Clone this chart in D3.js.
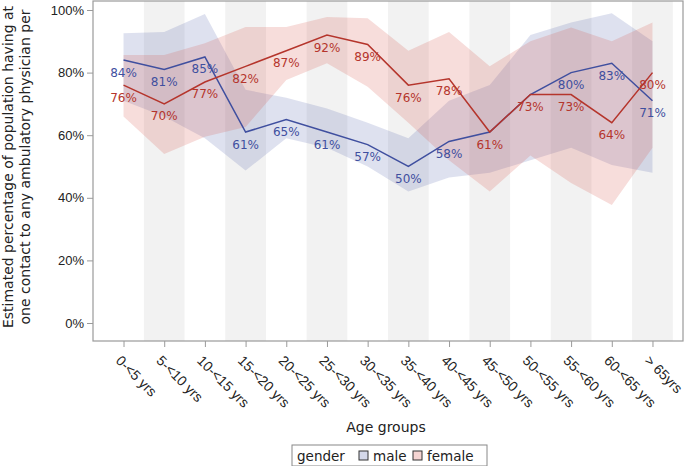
<html>
  <head>
    <script src="https://cdnjs.cloudflare.com/ajax/libs/d3/7.8.5/d3.min.js"></script>
    <style>
      body { margin: 0; background: #fff; }
      svg { display: block; font-family: "DejaVu Sans", Verdana, sans-serif; }
    </style>
  </head>
  <body>
    <svg width="685" height="466"></svg>
    <script>
      const ageGroups = ["0-<5 yrs", "5-<10 yrs", "10-<15 yrs", "15-<20 yrs", "20-<25 yrs", "25-<30 yrs",
        "30-<35 yrs", "35-<40 yrs", "40-<45 yrs", "45-<50 yrs", "50-<55 yrs", "55-<60 yrs", "60-<65 yrs", "> 65yrs"];
      const male = [84, 81, 85, 61, 65, 61, 57, 50, 58, 61, 73, 80, 83, 71];
      const maleHi = [92.6, 93, 98.7, 74.5, 72, 68.5, 64, 59, 71, 76, 92, 96, 99, 90];
      const maleLo = [71, 66, 59, 48.7, 59, 56, 50, 42, 46.5, 48, 52, 56, 50.5, 48];
      const female = [76, 70, 77, 82, 87, 92, 89, 76, 78, 61, 73, 73, 64, 80];
      const femaleHi = [85.6, 85.6, 89.4, 94.6, 94.6, 97.8, 97.4, 87, 93, 82, 90, 94.4, 90, 96];
      const femaleLo = [66, 54, 59.5, 62.6, 77.6, 83, 75.5, 64, 52, 42, 53.5, 44.7, 37.7, 56];
      const yTicks = [0, 20, 40, 60, 80, 100];

      const svg = d3.select("svg");
      const pLeft = 93, pRight = 683, pTop = 1, pBottom = 341;

      const x = d3.scalePoint().domain(ageGroups).range([pLeft, pRight]).padding(0.75);
      const y = d3.scaleLinear().domain([0, 100]).range([323, 10]);
      const step = x.step();

      // alternating stripes
      svg.append("g").selectAll("rect")
        .data(ageGroups.filter((d, i) => i % 2 === 1))
        .join("rect")
        .attr("x", d => x(d) - step / 2)
        .attr("y", pTop)
        .attr("width", step)
        .attr("height", pBottom - pTop)
        .attr("fill", "#f2f2f2");

      const series = [
        { key: "male", vals: male, lo: maleLo, hi: maleHi, line: "#3f4f9f", fill: "#3c4fa0", op: 0.17 },
        { key: "female", vals: female, lo: femaleLo, hi: femaleHi, line: "#b5352c", fill: "#d9544c", op: 0.2 }
      ];

      const area = d3.area()
        .x((d, i) => x(ageGroups[i]))
        .y0(d => y(d[0]))
        .y1(d => y(d[1]));
      const line = d3.line()
        .x((d, i) => x(ageGroups[i]))
        .y(d => y(d));

      series.forEach(s => {
        svg.append("path")
          .datum(s.lo.map((v, i) => [v, s.hi[i]]))
          .attr("d", area)
          .attr("fill", s.fill)
          .attr("fill-opacity", s.op);
      });
      series.forEach(s => {
        svg.append("path")
          .datum(s.vals)
          .attr("d", line)
          .attr("fill", "none")
          .attr("stroke", s.line)
          .attr("stroke-width", 1.5);
      });
      // value labels; a male label that sits on the same value as the female one is hidden
      series.forEach(s => {
        const pts = s.vals.map((v, i) => ({ v, i }))
          .filter(p => s.key === "female" || Math.abs(p.v - female[p.i]) >= 1);
        svg.append("g").selectAll("text")
          .data(pts)
          .join("text")
          .attr("x", d => x(ageGroups[d.i]))
          .attr("y", d => y(d.v) + 16.5)
          .attr("text-anchor", "middle")
          .attr("font-size", 12)
          .attr("fill", s.line)
          .text(d => d.v + "%");
      });

      // frame
      svg.append("rect")
        .attr("x", pLeft).attr("y", pTop)
        .attr("width", pRight - pLeft).attr("height", pBottom - pTop)
        .attr("fill", "none").attr("stroke", "#9a9a9a").attr("stroke-width", 1.2);

      // y axis
      const yAxis = svg.append("g")
        .attr("transform", `translate(${pLeft},0)`)
        .call(d3.axisLeft(y).tickValues(yTicks).tickSize(6).tickFormat(d => d + "%"));
      yAxis.select(".domain").remove();
      yAxis.selectAll("line").attr("stroke", "#9a9a9a");
      yAxis.selectAll("text").attr("font-size", 13).attr("fill", "#222").attr("font-family", null);

      // x axis
      const xAxis = svg.append("g")
        .attr("transform", `translate(0,${pBottom})`)
        .call(d3.axisBottom(x).tickSize(6));
      xAxis.select(".domain").remove();
      xAxis.selectAll("line").attr("stroke", "#9a9a9a");
      xAxis.selectAll("text")
        .attr("font-size", 14).attr("fill", "#222").attr("font-family", null)
        .attr("text-anchor", "start")
        .attr("transform", "rotate(45)")
        .attr("x", 8).attr("y", 16).attr("dy", "0.35em");

      // axis titles
      svg.append("text")
        .attr("x", (pLeft + pRight) / 2 - 2).attr("y", 432)
        .attr("text-anchor", "middle").attr("font-size", 14).attr("fill", "#222")
        .text("Age groups");
      const yt = svg.append("text")
        .attr("transform", "translate(0,167) rotate(-90)")
        .attr("text-anchor", "middle").attr("font-size", 14).attr("fill", "#222");
      yt.append("tspan").attr("x", 0).attr("y", 13).text("Estimated percentage of population having at");
      yt.append("tspan").attr("x", 0).attr("y", 30).text("one contact to any ambulatory physician per");

      // legend
      const lg = svg.append("g").attr("transform", "translate(292,445)");
      lg.append("rect").attr("width", 195).attr("height", 21)
        .attr("fill", "#fff").attr("stroke", "#888");
      lg.append("text").attr("x", 5).attr("y", 15.5).attr("font-size", 13.5).attr("fill", "#222").text("gender");
      const items = [{ t: "male", x: 67 }, { t: "female", x: 121 }];
      items.forEach((it, i) => {
        lg.append("rect").attr("x", it.x).attr("y", 6).attr("width", 9).attr("height", 9)
          .attr("fill", series[i].fill).attr("fill-opacity", series[i].op + 0.05)
          .attr("stroke", "#333").attr("stroke-width", 1);
        lg.append("text").attr("x", it.x + 14).attr("y", 15.5).attr("font-size", 13.5).attr("fill", "#222").text(it.t);
      });
    </script>
  </body>
</html>
